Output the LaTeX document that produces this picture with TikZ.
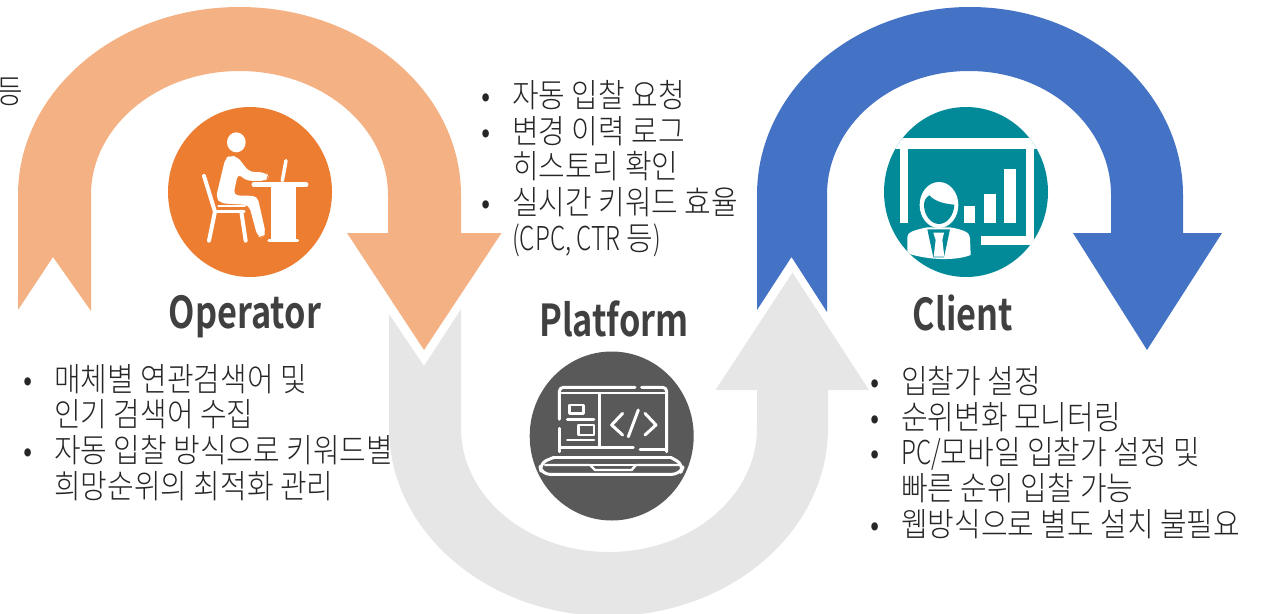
\documentclass[tikz,border=0pt]{standalone}
\usepackage{fontspec}
\newfontfamily\krbody[FakeStretch=0.88]{Noto Sans CJK KR Light}
\newfontfamily\krnarrow[FakeStretch=0.74]{Noto Sans CJK KR Light}
\newfontfamily\krhead[FakeStretch=0.78]{Noto Sans CJK KR Bold}
\definecolor{orgL}{HTML}{F4B183}
\definecolor{orgD}{HTML}{ED7D31}
\definecolor{bluM}{HTML}{4472C4}
\definecolor{gryL}{HTML}{E6E6E6}
\definecolor{gryD}{HTML}{595959}
\definecolor{teal1}{HTML}{038A99}
\definecolor{txtD}{HTML}{262626}
\definecolor{lblD}{HTML}{404040}
\newcommand{\bul}{\makebox[30pt][l]{\hspace*{-0.5pt}\textbullet}}
\newcommand{\cnt}{\hspace*{30pt}}
\newcommand{\ltn}[1]{{\krnarrow #1}}
\tikzset{
  listtext/.style={anchor=north west,inner sep=0pt,align=left,text=txtD,font=\krbody\fontsize{32.9}{35.7}\selectfont},
  headtext/.style={inner sep=0pt,anchor=base,text=lblD,font=\krhead\fontsize{44}{50}\selectfont},
  ic/.style={draw=white,line cap=round,line join=round},
}
\begin{document}
\begin{tikzpicture}[x=1pt,y=-1pt]
\useasboundingbox (0,0) rectangle (1265,613);
\begin{scope}
\clip (0,0) rectangle (1265,613);
% blue arrow
\fill[bluM] (757,310) -- (757,195) .. controls (757,91.2) and (852.4,7) .. (970,7)
  .. controls (1087.6,7) and (1183,91.2) .. (1183,195) -- (1183,233) -- (1222,233) -- (1147,350) -- (1073,233) -- (1111,233) -- (1111,195)
  .. controls (1111,126.5) and (1048.4,71) .. (969,71) .. controls (889.6,71) and (827,126.5) .. (827,195) -- (827,312) -- (791.5,257) -- cycle;
% grey arrow
\fill[gryL] (389,314) -- (389,428) .. controls (389,531.8) and (487.6,616) .. (608.5,616)
  .. controls (729.4,616) and (828,531.8) .. (828,428) -- (828,390) -- (869,390) -- (792.5,272.5) -- (715.5,390) -- (757,390) -- (757,428)
  .. controls (757,496.5) and (690.7,552) .. (609,552) .. controls (527.3,552) and (461,496.5) .. (461,428) -- (461,309) -- (424,366) -- cycle;
% orange arrow
\fill[orgL] (18,310) -- (18,195) .. controls (18,91.2) and (117.2,7) .. (239.5,7)
  .. controls (361.8,7) and (461,91.2) .. (461,195) -- (461,233) -- (501.5,233) -- (424,350) -- (347,233) -- (388,233) -- (388,195)
  .. controls (388,126.5) and (321.5,71) .. (239.5,71) .. controls (157.5,71) and (91,126.5) .. (91,195) -- (91,311) -- (53,257) -- cycle;
\node[inner sep=0pt,anchor=east,text=txtD,font=\krbody\fontsize{32.9}{36}\selectfont] (clipped) at (23,92) {등};
\end{scope}

% operator icon
\fill[orgD] (250,192) ellipse[x radius=82,y radius=85];
\begin{scope}[shift={(150,90)},x=0.3333pt,y=-0.3333pt]
\fill[white] (259,157) ellipse[x radius=28,y radius=30];
\fill[white,rounded corners=5pt] (226,205) -- (240,197) -- (262,200) -- (297,245) -- (350,248) -- (356,262) -- (345,273) -- (288,272) -- (264,250) -- (250,316) -- (322,318) -- (347,428) -- (338,444) -- (322,438) -- (297,345) -- (212,340) -- (198,322) -- cycle;
\draw[ic,line width=4pt] (162,258) -- (195,365);
\draw[ic,line width=3.5pt] (195,365) -- (282,365);
\draw[ic,line width=2pt] (205,348) -- (285,348);
\draw[ic,line width=4pt] (195,365) -- (177,452) (274,365) -- (287,452);
\draw[ic,line width=5pt] (312,284) -- (468,284);
\fill[white] (362,284) rectangle (437,450);
\draw[ic,line width=3pt] (357,452) -- (443,452);
\draw[ic,line width=3.5pt] (408,212) -- (397,272);
\end{scope}

% client icon
\fill[teal1] (966,192) ellipse[x radius=82,y radius=85];
\begin{scope}
\clip (966,192) ellipse[x radius=82,y radius=85];
\begin{scope}[shift={(870,90)},x=0.3333pt,y=-0.3333pt]
\fill[white] (60,145) rectangle (520,178);
\fill[white] (90,178) rectangle (115,398);
\fill[white] (468,178) rectangle (492,465);
\fill[white] (332,438) rectangle (492,465);
\fill[white] (281,347) rectangle (316,400);
\fill[white] (342,313) rectangle (377,400);
\fill[white] (403,238) rectangle (438,400);
\fill[white] (112,490) -- (112,442) .. controls (112,428) and (125,422) .. (172,412) -- (240,412) .. controls (285,420) and (300,428) .. (300,445) -- (302,495) .. controls (260,512) and (180,512) .. (112,490) -- cycle;
\fill[teal1] (172,418) -- (240,418) -- (222,502) -- (190,502) -- cycle;
\fill[white] (190,428) -- (222,428) -- (217,450) -- (223,500) -- (191,500) -- (197,450) -- cycle;
\fill[white] (207,345) ellipse[x radius=58,y radius=69];
\fill[teal1] (178,316) .. controls (195,335) and (225,342) .. (253,344) .. controls (252,375) and (232,402) .. (207,402) .. controls (182,402) and (162,375) .. (162,345) .. controls (162,332) and (168,322) .. (178,316) -- cycle;
\end{scope}
\end{scope}

% platform icon
\fill[gryD] (611.7,436) ellipse[x radius=82,y radius=84.5];
\begin{scope}[shift={(510,360)},x=0.3333pt,y=-0.3333pt]
\draw[ic,line width=3pt,rounded corners=4pt] (148,178) -- (148,82) -- (375,82);
\draw[ic,line width=3pt,rounded corners=4pt] (395,82) -- (470,82) -- (470,275);
\draw[ic,line width=3pt] (148,205) -- (148,275);
\draw[ic,line width=2.2pt] (155,98) -- (465,98);
\draw[ic,line width=2.8pt] (268,100) -- (268,262);
\draw[ic,line width=2.8pt] (152,262) -- (370,262);
\draw[ic,line width=2.8pt] (390,268) -- (465,268);
\draw[ic,line width=2.8pt] (178,135) rectangle (220,160);
\draw[ic,line width=2.8pt] (172,178) -- (252,178);
\draw[ic,line width=2.8pt] (205,195) rectangle (252,225);
\draw[ic,line width=2.8pt] (172,240) -- (252,240);
\draw[ic,line width=3pt] (338,160) -- (305,195) -- (338,225);
\draw[ic,line width=3pt] (385,150) -- (355,230);
\draw[ic,line width=3pt] (405,160) -- (438,195) -- (405,225);
\draw[ic,line width=2.6pt] (132,292) -- (482,292);
\draw[ic,line width=3pt,rounded corners=8pt] (132,292) -- (88,310) -- (95,343) -- (510,343) -- (522,315) -- (482,292);
\draw[ic,line width=2.4pt] (105,315) -- (240,315) -- (255,330) -- (365,330) -- (378,315) -- (510,315);
\draw[ic,line width=1.6pt] (240,315) -- (378,315);
\end{scope}

% headings
\node[headtext] (opLabel) at (245,328) {Operator};
\node[headtext] (plLabel) at (614,336) {Platform};
\node[headtext] (clLabel) at (963,330) {Client};

% lists
\node[listtext] (midList) at (482,80) {\bul 자동 입찰 요청\\\bul 변경 이력 로그\\\cnt 히스토리 확인\\\bul 실시간 키워드 효율\\\cnt \ltn{(CPC, CTR} 등\ltn{)}};
\node[listtext] (opList) at (24,364) {\bul 매체별 연관검색어 및\\\cnt 인기 검색어 수집\\\bul 자동 입찰 방식으로 키워드별\\\cnt 희망순위의 최적화 관리};
\node[listtext] (clList) at (871,366) {\bul 입찰가 설정\\\bul 순위변화 모니터링\\\bul \ltn{PC/}모바일 입찰가 설정 및\\\cnt 빠른 순위 입찰 가능\\\bul 웹방식으로 별도 설치 불필요};
\end{tikzpicture}
\end{document}
